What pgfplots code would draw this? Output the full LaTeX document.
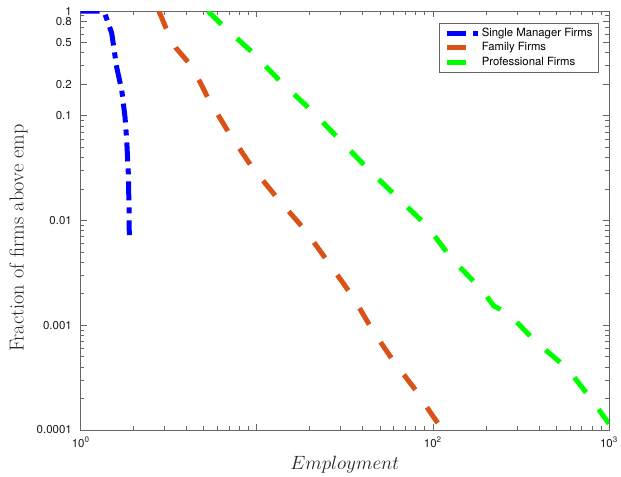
\documentclass[border=0pt]{standalone}
\usepackage{pgfplots}
\pgfplotsset{compat=1.18}
\usepackage{fontspec}
\newfontfamily\helv{TeX Gyre Heros}
\definecolor{mblue}{rgb}{0,0,1}
\definecolor{morange}{rgb}{0.851,0.325,0.098}
\definecolor{mgreen}{rgb}{0,1,0}
\begin{document}
\begin{tikzpicture}
\path[use as bounding box] (-60.525pt,-34.5pt) rectangle (405.225pt,322.5pt);
\begin{axis}[
  at={(0pt,0pt)}, anchor=south west,
  scale only axis, width=396.2pt, height=314.25pt,
  xmode=log, ymode=log,
  xmin=1, xmax=1000, ymin=0.0001, ymax=1,
  axis line style={black!60, line width=0.5pt},
  tick style={black!60, line width=0.5pt},
  tick align=inside,
  major tick length=4.5pt, minor tick length=2.8pt,
  xtick={1,10,100,1000},
  xticklabels={10\textsuperscript{0},,10\textsuperscript{2},10\textsuperscript{3}},
  minor xtick={2,3,4,5,6,7,8,9,20,30,40,50,60,70,80,90,200,300,400,500,600,700,800,900},
  ytick={0.0001,0.001,0.01,0.1,0.2,0.5,0.8,1},
  yticklabels={0.0001,0.001,0.01,0.1,0.2,0.5,0.8,1},
  minor ytick={0.0002,0.0003,0.0004,0.0005,0.0006,0.0007,0.0008,0.0009,0.002,0.003,0.004,0.005,0.006,0.007,0.008,0.009,0.02,0.03,0.04,0.05,0.06,0.07,0.08,0.09,0.3,0.4,0.6,0.7,0.9},
  ticklabel style={font=\helv\fontsize{8.6}{10}\selectfont, text=black!90},
  xticklabel style={inner sep=0pt, anchor=north, yshift=-5pt},
  yticklabel style={inner sep=0pt, anchor=east, xshift=-6.5pt},
  xlabel={$Employment$},
  ylabel={Fraction of firms above emp},
  label style={text=black!85},
  xlabel style={font=\fontsize{14.2}{17}\selectfont, at={(axis description cs:0.5,-0.0835)}, anchor=center},
  ylabel style={font=\fontsize{15.2}{18}\selectfont, at={(axis description cs:-0.118,0.458)}, anchor=center},
  legend style={at={(0.981,0.972)}, anchor=north east, draw=black!60, line width=0.5pt,
    font=\helv\fontsize{8.5}{10}\selectfont, inner xsep=3.5pt, inner ysep=2.5pt,
    row sep=0.6pt,
    nodes={inner sep=1pt, text height=6.4pt, text depth=1.8pt},
    cells={anchor=west}},
  legend image code/.code={\draw[#1] (0pt,0pt) -- (23.25pt,0pt);},
  clip=true,
]
\addplot[mblue, line width=3.75pt, line join=round, dash pattern=on 14.25pt off 5.25pt on 4.5pt off 5.25pt]
 coordinates {(1,1)(1.30,1)(1.374,0.936)(1.50,0.616)(1.60,0.292)(1.71,0.176)(1.785,0.0973)(1.825,0.0587)(1.864,0.0284)(1.881,0.01345)(1.888,0.00727)};
\addlegendentry{Single Manager Firms}
\addplot[morange, line width=3.75pt, line join=round, dash pattern=on 14.25pt off 15.75pt]
 coordinates {(2.78,1)(3.05,0.688)(3.48,0.443)(4.07,0.326)(4.76,0.210)(5.28,0.1477)(6.95,0.0684)(9.39,0.0324)(13.2,0.01604)(18.8,0.00811)(25.4,0.00402)(35.2,0.00186)(45.7,0.000881)(60.2,0.000446)(81.3,0.000231)(96.3,0.000149)(111.3,0.000105)};
\addlegendentry{Family Firms}
\addplot[mgreen, line width=3.75pt, line join=round, dash pattern=on 14.25pt off 15.75pt]
 coordinates {(5.28,1)(6.35,0.735)(9.39,0.406)(13.7,0.210)(20.3,0.1135)(29.3,0.060)(42.3,0.0317)(62.5,0.01676)(92.6,0.00886)(128.4,0.00429)(187.6,0.00222)(222,0.001527)(270.5,0.00128)(385,0.000692)(577,0.000391)(801,0.000193)(1000,0.000115)};
\addlegendentry{Professional Firms}
\end{axis}
\end{tikzpicture}
\end{document}
